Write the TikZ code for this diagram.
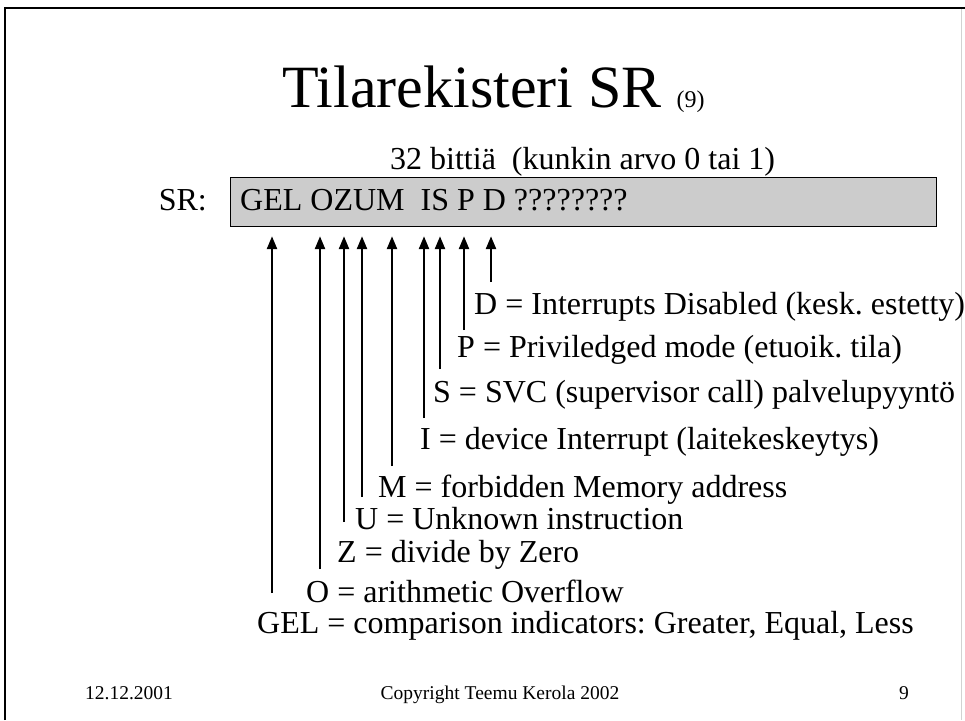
\documentclass[tikz,border=0pt]{standalone}
\usepackage{fontspec}
\setmainfont{Liberation Serif}
\usetikzlibrary{arrows.meta}
\frenchspacing
\begin{document}
\begin{tikzpicture}[x=1pt,y=-1pt,
  lbl/.style={anchor=base west, inner sep=0pt, font=\fontsize{32}{38}\selectfont},
  foot/.style={anchor=base, inner sep=0pt, font=\fontsize{19.5}{23}\selectfont},
  flag/.style={line width=2.5pt, -{Triangle[length=13pt,width=10pt]}, shorten >=9pt}]
\useasboundingbox (0,0) rectangle (965,720);
\fill[white] (0,0) rectangle (965,720);
\draw[gray!35, line width=1pt] (961,8) -- (961,720);
\draw[line width=2pt] (5,720) -- (5,8) -- (965,8);

\node[anchor=base west, inner sep=0pt] (title) at (282,107)
  {\fontsize{60}{66}\selectfont Tilarekisteri SR \fontsize{24}{28}\selectfont(9)};

\node[lbl] (bits) at (390,169) {32 bittiä\ \ (kunkin arvo 0 tai 1)};
\node[anchor=base east, inner sep=0pt, font=\fontsize{32}{38}\selectfont] (srlab) at (207,210) {SR:};

\node[draw, line width=1.2pt, fill=gray!40, anchor=north west, minimum width=706pt, minimum height=49pt, inner sep=0pt] (reg) at (230,177) {};
\node[lbl] (regtext) at (240,210) {GEL OZUM\ \ IS P D ????????};

\coordinate (gB) at (272,593);
\coordinate (oB) at (320,569);
\coordinate (zB) at (344,522);
\coordinate (uB) at (362,497);
\coordinate (mB) at (392,466);
\coordinate (iB) at (424,418);
\coordinate (sB) at (440,369);
\coordinate (pB) at (464,330);
\coordinate (dB) at (491,282);
\foreach \c in {gB,oB,zB,uB,mB,iB,sB,pB,dB}
  \draw[flag] (\c) -- (\c |- reg.south);

\node[lbl] (dL) at (474,314) {D = Interrupts Disabled (kesk. estetty)};
\node[lbl] (pL) at (457,357) {P = Priviledged mode (etuoik. tila)};
\node[lbl] (sL) at (433,402) {S = SVC (supervisor call) palvelupyyntö};
\node[lbl] (iL) at (420,449) {I = device Interrupt (laitekeskeytys)};
\node[lbl] (mL) at (378,497) {M = forbidden Memory address};
\node[lbl] (uL) at (355,529) {U = Unknown instruction};
\node[lbl] (zL) at (337,562) {Z = divide by Zero};
\node[lbl] (oL) at (306,602) {O = arithmetic Overflow};
\node[lbl] (gL) at (257,633) {GEL = comparison indicators: Greater, Equal, Less};

\node[foot, anchor=base west] (date) at (85,699) {12.12.2001};
\node[foot] (copy) at (500,699) {Copyright Teemu Kerola 2002};
\node[foot] (page) at (904,699) {9};
\end{tikzpicture}
\end{document}
